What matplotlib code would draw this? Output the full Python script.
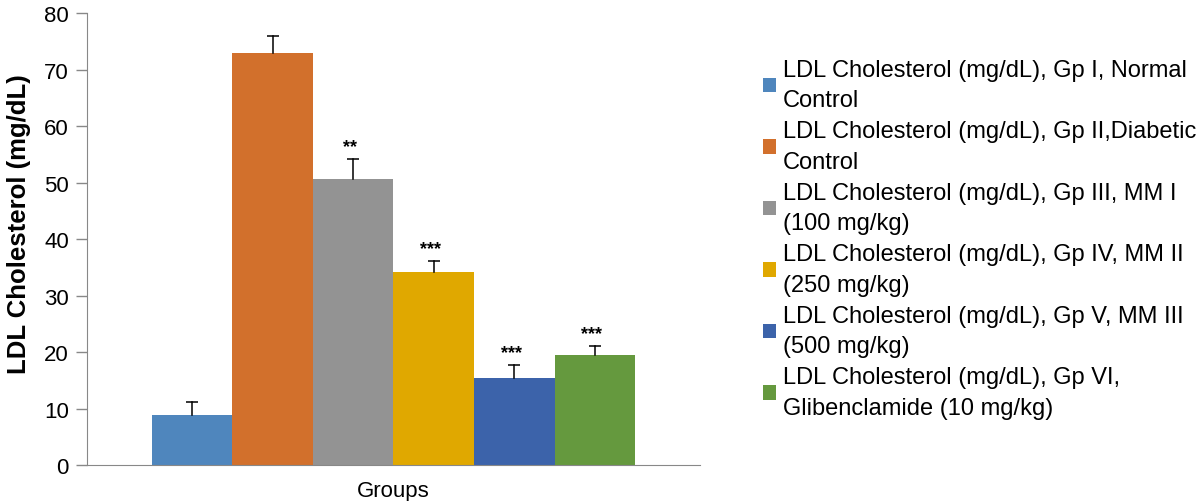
import numpy as np
import matplotlib.pyplot as plt

plt.rcParams['font.family'] = ['Liberation Sans', 'DejaVu Sans']

groups = ["LDL Cholesterol (mg/dL), Gp I, Normal\nControl",
          "LDL Cholesterol (mg/dL), Gp II,Diabetic\nControl",
          "LDL Cholesterol (mg/dL), Gp III, MM I\n(100 mg/kg)",
          "LDL Cholesterol (mg/dL), Gp IV, MM II\n(250 mg/kg)",
          "LDL Cholesterol (mg/dL), Gp V, MM III\n(500 mg/kg)",
          "LDL Cholesterol (mg/dL), Gp VI,\nGlibenclamide (10 mg/kg)"]
values = [8.9, 73.0, 50.7, 34.1, 15.4, 19.5]
errors = [2.2, 2.9, 3.5, 2.0, 2.3, 1.6]
stars = ["", "", "**", "***", "***", "***"]
colors = ['#4F86BD', '#D2702C', '#939393', '#E0A800', '#3C63AA', '#65993E']

fig = plt.figure(figsize=(12, 5.02), dpi=100)
ax = fig.add_axes([0.0725, 0.0717, 0.5108, 0.9003])

x = np.arange(len(values)) - (len(values) - 1) / 2.0
for i in range(len(values)):
	ax.bar(x[i], values[i], width=1.0, color=colors[i], label=groups[i], zorder=2)
	# only the upper half of the error bar, like Excel
	top = values[i] + errors[i]
	ax.plot([x[i], x[i]], [values[i], top], color='black', lw=1.1, zorder=3)
	ax.plot([x[i]], [top], marker='_', markersize=8, mew=1.1, color='black', zorder=3)
	if stars[i]:
		ax.text(x[i] - 0.04, top + 0.7, stars[i], ha='center', va='bottom',
				fontsize=13, fontweight='bold')

ax.set_xlim(-3.8, 3.8)
ax.set_ylim(0, 80)
ax.set_yticks(np.arange(0, 81, 10))
ax.set_xticks([0])
ax.set_xticklabels(["Groups"])
ax.tick_params(axis='x', length=0, labelsize=16, pad=11)
ax.tick_params(axis='y', length=8, width=1, color='#888888', labelsize=16, direction='out', pad=5)
for s in ['top', 'right']:
	ax.spines[s].set_visible(False)
for s in ['left', 'bottom']:
	ax.spines[s].set_color('#888888')
ax.set_ylabel("LDL Cholesterol (mg/dL)", fontsize=18.5, fontweight='bold')
ax.yaxis.set_label_coords(-0.092, 0.535)

leg = fig.legend(loc='upper left', bbox_to_anchor=(0.628, 0.9), frameon=False, fontsize=17,
				 handlelength=0.55, handleheight=0.55, handletextpad=0.3, labelspacing=0.38,
				 borderaxespad=0)
for t in leg.get_texts():
	t.set_linespacing(1.5)

fig.savefig("out.png", dpi=100)
